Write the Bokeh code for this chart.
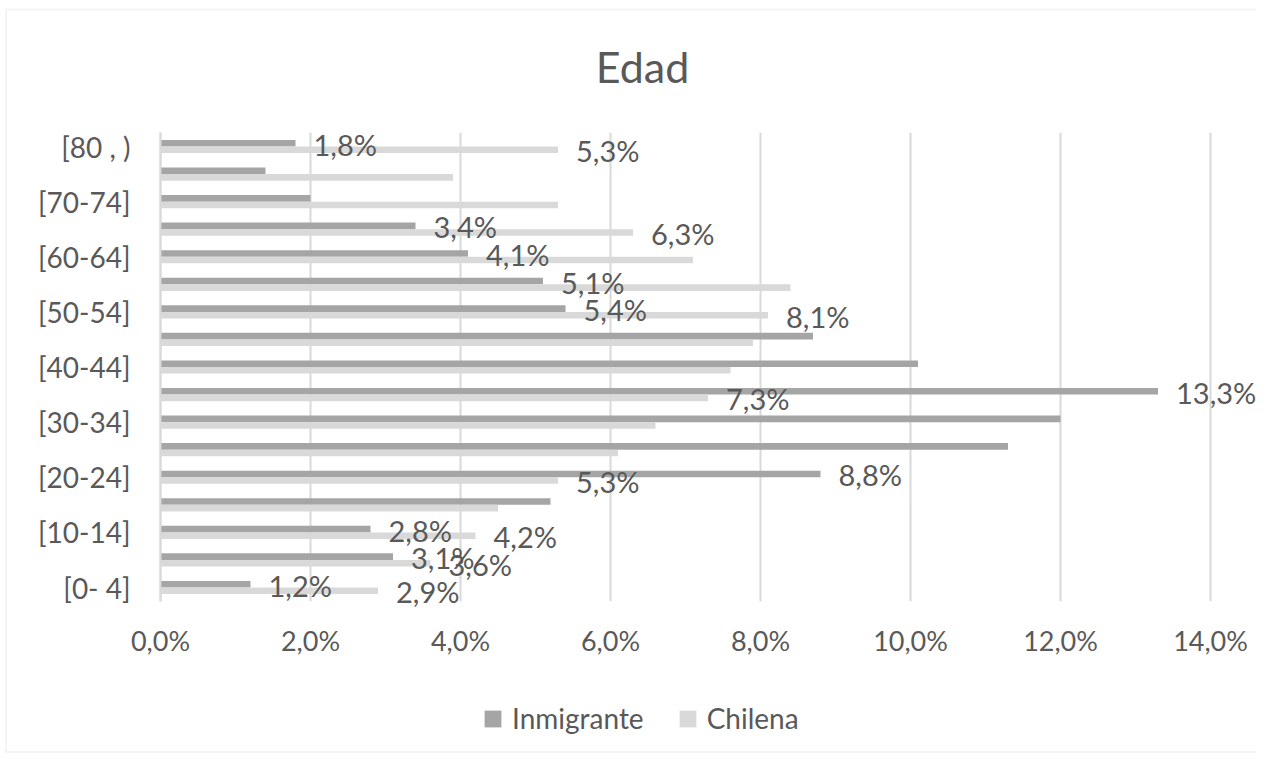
from bokeh.plotting import figure
from bokeh.models import (Range1d, FixedTicker, ColumnDataSource, Label, Legend,
                          LegendItem, BoxAnnotation)
from bokeh.core.properties import value
from bokeh.embed import file_html
from bokeh.resources import INLINE

# ---------------- data ----------------
categories = ["[0- 4]", "[5-9]", "[10-14]", "[15-19]", "[20-24]", "[25-29]",
              "[30-34]", "[35-39]", "[40-44]", "[45-49]", "[50-54]", "[55-59]",
              "[60-64]", "[65-69]", "[70-74]", "[75-79]", "[80 , )"]
inmigrante = [1.2, 3.1, 2.8, 5.2, 8.8, 11.3, 12.0, 13.3, 10.1, 8.7, 5.4, 5.1,
              4.1, 3.4, 2.0, 1.4, 1.8]
chilena = [2.9, 3.6, 4.2, 4.5, 5.3, 6.1, 6.6, 7.3, 7.6, 7.9, 8.1, 8.4,
           7.1, 6.3, 5.3, 3.9, 5.3]
inmigrante_label_shown = [1, 1, 1, 0, 1, 0, 0, 1, 0, 0, 1, 1, 1, 1, 0, 0, 1]
chilena_label_shown = [1, 1, 1, 0, 1, 0, 0, 1, 0, 0, 1, 0, 0, 1, 0, 0, 1]
shown_category_ticks = ["[0- 4]", "[10-14]", "[20-24]", "[30-34]", "[40-44]",
                        "[50-54]", "[60-64]", "[70-74]", "[80 , )"]
x_ticks = [0, 2, 4, 6, 8, 10, 12, 14]
x_tick_labels = ["0,0%", "2,0%", "4,0%", "6,0%", "8,0%", "10,0%", "12,0%", "14,0%"]
title_text = "Edad"
series_names = ["Inmigrante", "Chilena"]

# ---------------- style / layout ----------------
FONT = "Lato"
TXT = "#595959"
DARK = "#a5a5a5"
LIGHT = "#d9d9d9"
GRID = "#d9d9d9"
BAR_H = 0.24
OFF = 0.12

W, H = 1256, 753
ZERO_X = 160            # canvas x of 0 %
PX_PER_PCT = 75.0
CAT0_Y = 587            # canvas y of first category centre
PX_PER_CAT = 27.5625


def fmt(v):
    return ("%.1f%%" % v).replace(".", ",")


n = len(categories)
idx = list(range(n))

x_lo = -ZERO_X / PX_PER_PCT
x_hi = (W - ZERO_X) / PX_PER_PCT
y_lo = -(H - CAT0_Y) / PX_PER_CAT
y_hi = y_lo + H / PX_PER_CAT

p = figure(width=W, height=H, output_backend="svg", toolbar_location=None,
           x_range=Range1d(x_lo, x_hi), y_range=Range1d(y_lo, y_hi),
           min_border=0, min_border_left=0, min_border_right=0,
           min_border_top=0, min_border_bottom=0)
p.outline_line_color = None
p.background_fill_color = "white"
p.border_fill_color = "white"

# outer chart border
p.add_layout(BoxAnnotation(left=5.5, right=W + 40, top=H - 9, bottom=1.5,
                           left_units="screen", right_units="screen",
                           top_units="screen", bottom_units="screen",
                           fill_alpha=0, line_color="#d9d9d9", line_width=2))

# vertical grid lines (bounded to the category band)
p.segment(x0=x_ticks, x1=x_ticks, y0=[-0.5] * len(x_ticks),
          y1=[n - 0.5] * len(x_ticks), line_color=GRID, line_width=2)

src = ColumnDataSource(dict(
    y_inm=[i + OFF for i in idx], y_chi=[i - OFF for i in idx],
    inm=inmigrante, chi=chilena))

r_inm = p.hbar(y="y_inm", left=0, right="inm", height=BAR_H, source=src,
               fill_color=DARK, line_color=None)
r_chi = p.hbar(y="y_chi", left=0, right="chi", height=BAR_H, source=src,
               fill_color=LIGHT, line_color=None)


def label_source(vals, flags, off):
    xs, ys, ts = [], [], []
    for i, (v, f) in enumerate(zip(vals, flags)):
        if f:
            xs.append(v)
            ys.append(i + off)
            ts.append(fmt(v))
    return ColumnDataSource(dict(x=xs, y=ys, t=ts))


for vals, flags, off in ((inmigrante, inmigrante_label_shown, OFF),
                         (chilena, chilena_label_shown, -OFF)):
    p.text(x="x", y="y", text="t", source=label_source(vals, flags, off),
           x_offset=18, y_offset=1, text_font=value(FONT),
           text_font_size="29px", text_color=TXT, text_align="left",
           text_baseline="middle")

# axes, pinned inside the frame
p.xaxis.fixed_location = -0.5
p.xaxis.ticker = FixedTicker(ticks=x_ticks)
p.xaxis.major_label_overrides = {t: l for t, l in zip(x_ticks, x_tick_labels)}
p.xaxis.axis_line_color = None
p.xaxis.major_tick_line_color = None
p.xaxis.minor_tick_line_color = None
p.xaxis.major_tick_out = 0
p.xaxis.major_tick_in = 0
p.xaxis.major_label_standoff = 23
p.xaxis.major_label_text_font = FONT
p.xaxis.major_label_text_font_size = "27px"
p.xaxis.major_label_text_color = TXT

ytick_pos = [categories.index(c) for c in shown_category_ticks]
p.yaxis.fixed_location = 0
p.yaxis.ticker = FixedTicker(ticks=ytick_pos)
p.yaxis.major_label_overrides = {i: categories[i] for i in ytick_pos}
p.yaxis.bounds = (-0.5, n - 0.5)
p.yaxis.axis_line_color = GRID
p.yaxis.axis_line_width = 2
p.yaxis.major_tick_line_color = None
p.yaxis.minor_tick_line_color = None
p.yaxis.major_tick_out = 0
p.yaxis.major_tick_in = 0
p.yaxis.major_label_standoff = 30
p.yaxis.major_label_text_font = FONT
p.yaxis.major_label_text_font_size = "28px"
p.yaxis.major_label_text_color = TXT

p.xgrid.grid_line_color = None
p.ygrid.grid_line_color = None

# title
p.add_layout(Label(x=642, y=H - 66, x_units="screen", y_units="screen",
                   text=title_text, text_font=FONT, text_font_size="43px",
                   text_color=TXT, text_align="center",
                   text_baseline="alphabetic"))

# legend
legend = Legend(items=[LegendItem(label=series_names[0], renderers=[r_inm]),
                       LegendItem(label=series_names[1], renderers=[r_chi])],
                orientation="horizontal", location=(482, 18),
                glyph_width=21, glyph_height=21, label_standoff=9, spacing=33,
                padding=0, margin=0, border_line_color=None,
                background_fill_alpha=0, label_text_font=FONT,
                label_text_font_size="28px", label_text_color=TXT)
p.add_layout(legend, "center")

open("out.html", "w").write(file_html(p, INLINE))
